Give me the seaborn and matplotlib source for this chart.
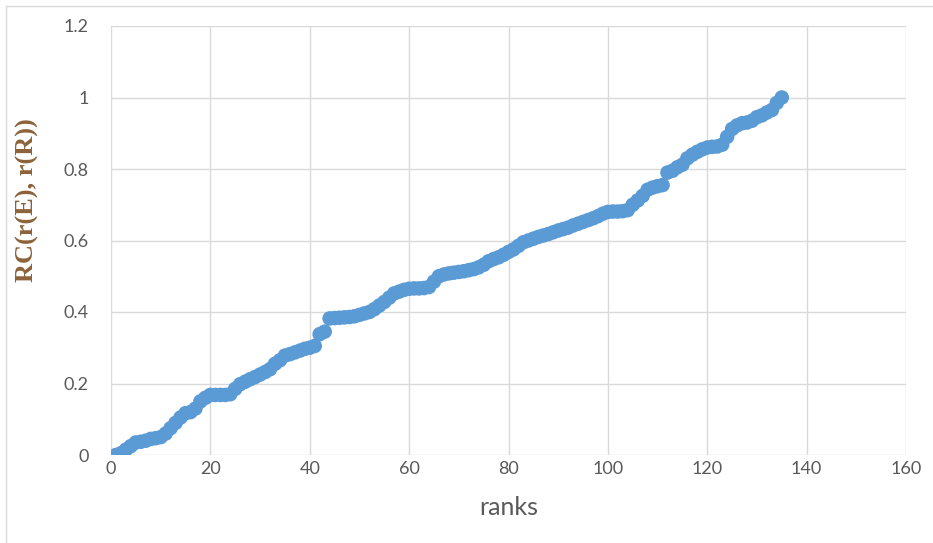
import numpy as np
import pandas as pd
import seaborn as sns
import matplotlib.pyplot as plt
from matplotlib.patches import Rectangle

# ranks 1..135 and the RC values
ranks = list(range(1, 136))
rc_values = [
    0.000, 0.005, 0.015, 0.025, 0.035, 0.037, 0.040, 0.045, 0.047, 0.050,
    0.060, 0.075, 0.090, 0.105, 0.117, 0.120, 0.130, 0.150, 0.160, 0.168,
    0.168, 0.168, 0.168, 0.170, 0.185, 0.198, 0.205, 0.212, 0.218, 0.225,
    0.232, 0.240, 0.255, 0.265, 0.278, 0.282, 0.287, 0.292, 0.297, 0.300,
    0.305, 0.338, 0.345, 0.382, 0.383, 0.384, 0.385, 0.386, 0.388, 0.392,
    0.396, 0.400, 0.408, 0.418, 0.428, 0.440, 0.452, 0.457, 0.462, 0.465,
    0.466, 0.466, 0.467, 0.470, 0.485, 0.500, 0.505, 0.508, 0.510, 0.512,
    0.514, 0.517, 0.520, 0.525, 0.532, 0.542, 0.548, 0.553, 0.560, 0.568,
    0.575, 0.585, 0.595, 0.600, 0.605, 0.610, 0.614, 0.618, 0.623, 0.628,
    0.632, 0.636, 0.642, 0.647, 0.652, 0.657, 0.662, 0.668, 0.675, 0.680,
    0.681, 0.681, 0.682, 0.685, 0.700, 0.712, 0.725, 0.742, 0.748, 0.752,
    0.755, 0.790, 0.795, 0.805, 0.812, 0.830, 0.840, 0.848, 0.855, 0.860,
    0.862, 0.863, 0.868, 0.890, 0.912, 0.922, 0.928, 0.930, 0.935, 0.945,
    0.950, 0.958, 0.965, 0.985, 1.000,
]
x_ticks = [0, 20, 40, 60, 80, 100, 120, 140, 160]
y_ticks = [0, 0.2, 0.4, 0.6, 0.8, 1.0, 1.2]
y_tick_labels = ['0', '0.2', '0.4', '0.6', '0.8', '1', '1.2']

df = pd.DataFrame({'rank': ranks, 'rc': rc_values})

sns.set_style('white')
plt.rcParams['font.family'] = ['Lato', 'DejaVu Sans']

fig = plt.figure(figsize=(9.33, 5.43), dpi=100)
ax = fig.add_axes([111 / 933, 1 - 455 / 543, (906 - 111) / 933, (455 - 26) / 543])

sns.scatterplot(data=df, x='rank', y='rc', ax=ax, color='#5B9BD5',
                s=110, edgecolor='none', zorder=3, legend=False)

ax.set_xlim(0, 160)
ax.set_ylim(0, 1.2)
ax.set_xticks(x_ticks)
ax.set_yticks(y_ticks)
ax.set_yticklabels(y_tick_labels)
ax.grid(True, color='#D9D9D9', linewidth=1.0)
ax.set_axisbelow(True)
for s in ax.spines.values():
    s.set_visible(False)
ax.tick_params(axis='both', length=0, labelsize=13, colors='#595959')
ax.tick_params(axis='x', pad=4)
ax.tick_params(axis='y', pad=16)

ax.set_xlabel('ranks', fontsize=18, color='#595959', labelpad=14)
ax.set_ylabel('')
fig.text(27 / 933, 1 - 200 / 543, 'RC(r(E), r(R))', rotation=90,
         ha='center', va='center', fontsize=19, fontweight='bold',
         family='Liberation Serif', color='#8C6239')

# light chart-area border
fig.patches.append(Rectangle((6 / 933, -0.01), 1.5, 1 - 6 / 543 + 0.01,
                             transform=fig.transFigure, fill=False,
                             edgecolor='#D9D9D9', linewidth=1.0))

fig.savefig('out.png', dpi=100)
